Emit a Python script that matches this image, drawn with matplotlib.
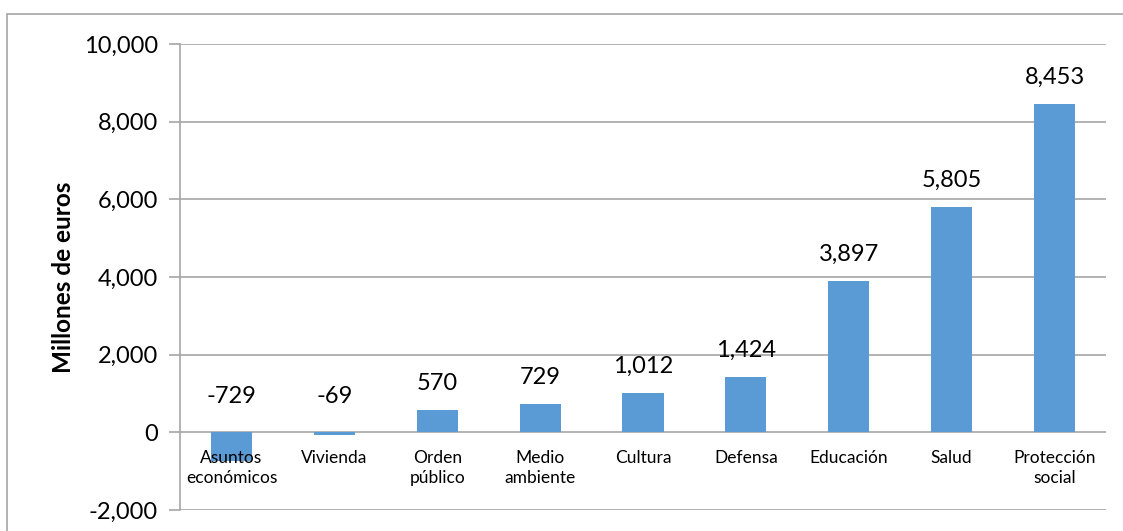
import matplotlib
matplotlib.use("Agg")
import matplotlib.pyplot as plt
from matplotlib.patches import Rectangle
from matplotlib.ticker import FuncFormatter

# Data
categories = ['Asuntos\neconómicos', 'Vivienda', 'Orden\npúblico', 'Medio\nambiente',
              'Cultura', 'Defensa', 'Educación', 'Salud', 'Protección\nsocial']
values = [-729, -69, 570, 729, 1012, 1424, 3897, 5805, 8453]
y_ticks = [-2000, 0, 2000, 4000, 6000, 8000, 10000]

plt.rcParams['font.family'] = ['Lato', 'DejaVu Sans']

fig = plt.figure(figsize=(11.23, 5.31), dpi=100)
ax = fig.add_axes([180 / 1123, 21 / 531, 926 / 1123, 466 / 531])

# outer frame of the chart area
fig.patches.append(Rectangle((7 / 1123, -0.05), 1.2, (531 - 14) / 531 + 0.05,
                             transform=fig.transFigure, fill=False,
                             edgecolor='#a6a6a6', linewidth=1.2))

x = range(len(categories))
ax.bar(x, values, width=0.4, color='#5b9bd5', zorder=3)

ax.set_xlim(-0.5, len(categories) - 0.5)
ax.set_ylim(-2000, 10000)
ax.set_yticks(y_ticks)
ax.yaxis.set_major_formatter(FuncFormatter(lambda v, p: f'{int(v):,}'))
ax.tick_params(axis='y', labelsize=17, length=8, color='#a6a6a6', width=1.2, pad=8)
ax.set_xticks([])
ax.grid(axis='y', color='#a6a6a6', linewidth=1.2, zorder=0)

for side in ['top', 'right', 'bottom']:
    ax.spines[side].set_visible(False)
ax.spines['left'].set_color('#a6a6a6')
ax.spines['left'].set_linewidth(1.2)

ax.set_ylabel('Millones de euros', fontsize=17.5, fontweight='bold', labelpad=6)

# value labels
for i, v in enumerate(values):
    base = v if v > 0 else 0
    off = 27 if v > 0 else 36
    ax.annotate(f'{v:,}', xy=(i, base), xytext=(0, off), textcoords='offset pixels',
                ha='center', va='center', fontsize=17)

# category labels sitting just under the zero line
for i, c in enumerate(categories):
    ax.annotate(c, xy=(i, 0), xytext=(0, -18), textcoords='offset pixels',
                ha='center', va='top', fontsize=12.5, linespacing=1.3)

fig.savefig('out.png', dpi=100)
